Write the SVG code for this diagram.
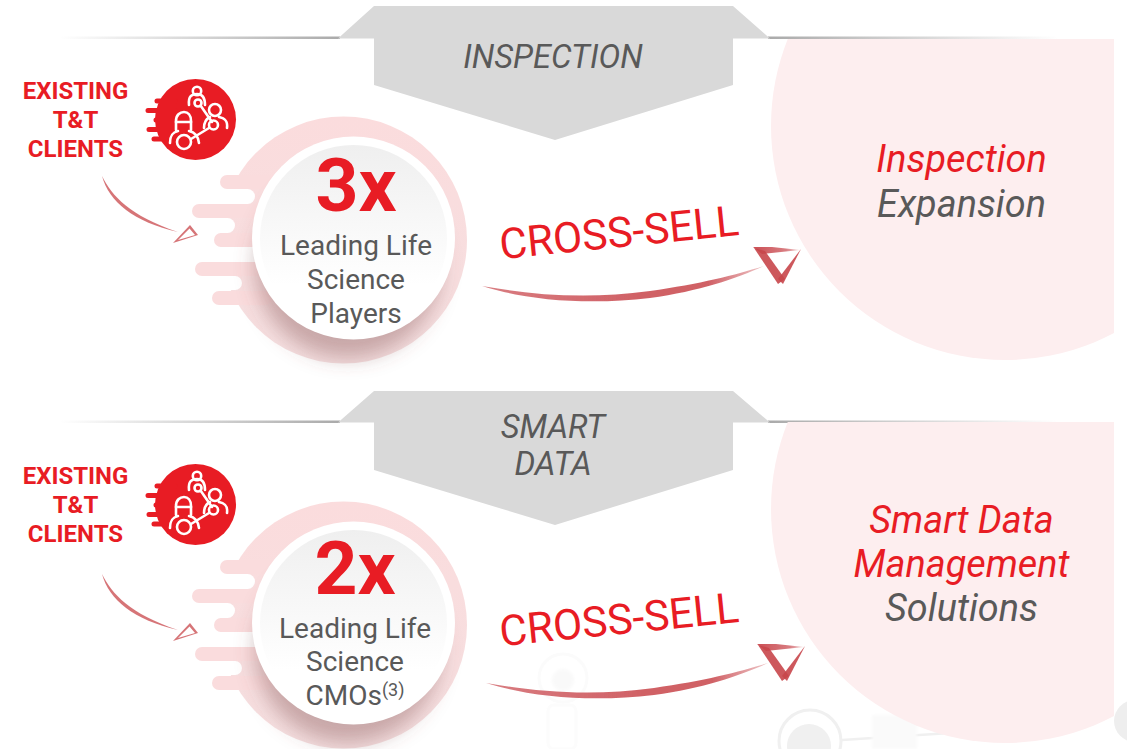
<svg xmlns="http://www.w3.org/2000/svg" width="1127" height="749" viewBox="0 0 1127 749">
<style>
text{font-family:Roboto,"Liberation Sans",sans-serif;text-anchor:middle}
.chev{fill:#d9d9d9}
.chevt{font-size:32.600px;font-style:italic;fill:#595959}
.big{fill:#fdeeef}
.lab{font-size:37.800px;font-style:italic}
.r{fill:#e81c24}.g{fill:#595959}
.ex{font-size:24px;font-weight:700;fill:#e81c24}
.num{font-size:75px;font-weight:700;fill:#e81c24}
.sub{font-size:28px;fill:#595959}
.cs{font-size:42.500px;fill:#e81c24}
.sk{fill:#c8454b;filter:url(#soft)}
.ic{fill:none;stroke:#fff;stroke-width:2.600;stroke-linecap:round}
.bar{fill:#fadcdd}
.wm{fill:none;stroke:#f0f0f0;stroke-width:3}
</style>
<defs>
<linearGradient id="ll" x1="0" x2="1"><stop offset="0" stop-color="#aaa" stop-opacity="0"/><stop offset="1" stop-color="#aaa"/></linearGradient>
<linearGradient id="lr" x1="0" x2="1"><stop offset="0" stop-color="#aaa"/><stop offset="1" stop-color="#aaa" stop-opacity="0"/></linearGradient>
<linearGradient id="inner" x1="0" y1="0" x2="0" y2="1"><stop offset="0" stop-color="#efefef"/><stop offset=".75" stop-color="#fff"/></linearGradient>
<linearGradient id="pink" x1="0" y1="0" x2="0" y2="1"><stop offset="0" stop-color="#fbdcdd"/><stop offset="1" stop-color="#f5dfe0"/></linearGradient>
<linearGradient id="fade" gradientUnits="userSpaceOnUse" x1="482" y1="0" x2="765" y2="0"><stop offset="0" stop-color="#c8454b" stop-opacity=".7"/><stop offset=".55" stop-color="#c8454b" stop-opacity=".85"/><stop offset=".8" stop-color="#c8454b" stop-opacity=".85"/><stop offset="1" stop-color="#c8454b" stop-opacity=".3"/></linearGradient>
<linearGradient id="fadeTop" gradientUnits="userSpaceOnUse" x1="753" y1="0" x2="800" y2="0"><stop offset="0" stop-color="#c8454b" stop-opacity=".95"/><stop offset=".7" stop-color="#c8454b" stop-opacity=".7"/><stop offset="1" stop-color="#c8454b" stop-opacity=".2"/></linearGradient>
<filter id="blur" x="-30%" y="-30%" width="160%" height="160%"><feGaussianBlur stdDeviation="10"/></filter>
<filter id="soft" x="-10%" y="-30%" width="120%" height="160%"><feGaussianBlur stdDeviation=".7"/></filter>
<filter id="wb" x="-20%" y="-20%" width="140%" height="140%"><feGaussianBlur stdDeviation="1.500"/></filter>
<clipPath id="bc1"><rect x="700" y="39" width="414" height="340"/></clipPath>
<clipPath id="bc2"><rect x="700" y="422" width="414" height="327"/></clipPath>
<g id="medalShape">
<circle cx="343.500" cy="240" r="123.500" fill="url(#pink)"/>
<rect class="bar" x="220" y="175" width="70" height="14" rx="7"/>
<rect class="bar" x="192" y="204" width="90" height="14" rx="7"/>
<rect class="bar" x="214" y="233" width="60" height="14" rx="7"/>
<rect class="bar" x="195" y="262" width="80" height="14" rx="7"/>
<rect class="bar" x="212" y="291" width="60" height="14" rx="7"/>
<rect fill="#fff" x="180" y="189" width="75" height="15" rx="7.500"/>
<rect fill="#fff" x="180" y="218" width="55" height="15" rx="7.500"/>
<rect fill="#fff" x="180" y="247" width="90" height="15"/>
<rect fill="#fff" x="180" y="276" width="62" height="14" rx="7"/>
<circle cx="348" cy="265" r="93" fill="#7d4a4a" fill-opacity=".38" filter="url(#blur)"/>
<circle cx="353.500" cy="238" r="101.500" fill="#fff"/>
<circle cx="353.500" cy="238.500" r="93.500" fill="url(#inner)"/>
</g>
<g id="iconShape">
<circle cx="195.500" cy="119.500" r="40.500" fill="#e81c24"/>
<g stroke="#e81c24" stroke-width="5" stroke-linecap="round"><path d="M157 101H175M148 110.500H175M156 120H175M149 129.500H175M154 139H175"/></g>
<g class="ic">
<circle cx="197" cy="91" r="4.200"/><path d="M189 105C188 96 192 94 197 94C202 94 205 97 205 105"/>
<circle cx="198" cy="103" r="3.500"/><path d="M200.500 105.500L212 122"/>
<circle cx="215" cy="110" r="6"/><path d="M204 128C204 120 208 118 210 117M219 117C224 118 228 120 227 128"/>
<circle cx="213.500" cy="125" r="4.500"/>
<path d="M176 130V121C176 115 180 112 184 112C188 112 191 115 191 121V130"/><path d="M176 122H191"/>
<path d="M170 143C170 134 174 132 178 131M189 131C194 132 198 135 199 143"/>
<circle cx="184" cy="142" r="7"/><path d="M191 139L209 128"/>
</g>
</g>
<g id="smallArrow">
<path class="sk" fill-opacity=".75" d="M102 176C112 196 130 216 178 232C134 222 109 202 102 176Z"/>
<path class="sk" fill-opacity=".75" fill-rule="evenodd" d="M173 243L190 225L198 235ZM178 240L195 235L189.500 228.500Z"/>
</g>
<g id="bigArrow">
<path style="fill:url(#fade);filter:url(#soft)" d="M482 286C540 296 590 299 650 291C700 284 735 275 764 266C735 279 700 291 650 298C590 305 530 301 482 286Z"/>
<path style="fill:url(#fadeTop);filter:url(#soft)" d="M753 247L772 247L800 250L762 254Z"/>
<path class="sk" fill-opacity=".9" d="M754 248L765 251L785 279L778 284Z"/>
<path class="sk" fill-opacity=".9" d="M801 249L783 284L778 279Z"/>
</g>
</defs>
<rect width="1127" height="749" fill="#fff"/>

<g id="watermark">
<circle cx="563" cy="678" r="24" fill="none" stroke="#fbfbfb" stroke-width="3"/>
<circle cx="563" cy="680" r="11" fill="#f9f9f9" filter="url(#wb)"/>
<rect x="548" y="705" width="28" height="44" rx="6" fill="none" stroke="#fcfcfc" stroke-width="3"/>
<circle class="wm" cx="810" cy="741" r="31"/>
<circle cx="809" cy="746" r="22" fill="#f0f0f0"/>
<path d="M842 740L950 733" fill="none" stroke="#f0f0f0" stroke-width="2.500"/>
<rect x="872" y="715" width="45" height="34" fill="#fafafa" filter="url(#wb)"/>
<circle cx="1135" cy="721" r="21" fill="#eeeeee"/>
</g>

<g id="inspection-lines">
<rect x="60" y="36.500" width="280" height="2.500" fill="url(#ll)"/>
<rect x="768" y="36.500" width="290" height="2.500" fill="url(#lr)"/>
</g>
<g id="smart-lines">
<rect x="60" y="420.500" width="280" height="2.500" fill="url(#ll)"/>
<rect x="768" y="420.500" width="290" height="2.500" fill="url(#lr)"/>
</g>

<g id="inspection-panel">
<circle class="big" cx="1005" cy="126" r="234" clip-path="url(#bc1)"/>
<text class="lab r" x="961.500" y="172">Inspection</text>
<text class="lab g" x="961.500" y="217">Expansion</text>
</g>
<g id="smart-panel">
<circle class="big" cx="1005" cy="509" r="234" clip-path="url(#bc2)"/>
<text class="lab r" x="961.500" y="533">Smart Data</text>
<text class="lab r" x="961.500" y="577">Management</text>
<text class="lab g" x="961.500" y="621">Solutions</text>
</g>

<g id="inspection-chevron">
<path class="chev" d="M338 38.500L374 6H733L770 38.500H733V85L555 140L374 85V38.500Z"/>
<text class="chevt" x="553" y="68">INSPECTION</text>
</g>
<g id="smart-chevron">
<path class="chev" d="M338 422.500L374 391H733L770 422.500H733V470L555 525L374 470V422.500Z"/>
<text class="chevt" x="553" y="438">SMART</text>
<text class="chevt" x="553" y="475">DATA</text>
</g>

<g id="clients-1">
<text class="ex" x="75.500" y="99">EXISTING</text>
<text class="ex" x="75.500" y="128">T&amp;T</text>
<text class="ex" x="75.500" y="157">CLIENTS</text>
<use href="#iconShape"/>
</g>
<g id="clients-2">
<text class="ex" x="75.500" y="484">EXISTING</text>
<text class="ex" x="75.500" y="513">T&amp;T</text>
<text class="ex" x="75.500" y="542">CLIENTS</text>
<use href="#iconShape" y="385"/>
</g>

<g id="medal-1">
<use href="#medalShape"/>
<text class="num" x="356" y="211">3x</text>
<text class="sub" x="356" y="255">Leading Life</text>
<text class="sub" x="356" y="289">Science</text>
<text class="sub" x="356" y="323">Players</text>
</g>
<g id="medal-2">
<use href="#medalShape" y="385"/>
<text class="num" x="355" y="594">2x</text>
<text class="sub" x="355" y="638">Leading Life</text>
<text class="sub" x="355" y="671">Science</text>
<text class="sub" x="355" y="705">CMOs<tspan font-size="18px" dy="-9">(3)</tspan></text>
</g>

<g id="connectors">
<use href="#smallArrow"/>
<use href="#smallArrow" y="398"/>
<use href="#bigArrow"/>
<use href="#bigArrow" x="4" y="397"/>
<text class="cs" transform="translate(620.500 247) rotate(-5.800)">CROSS-SELL</text>
<text class="cs" transform="translate(620.500 634) rotate(-5.800)">CROSS-SELL</text>
</g>
</svg>
